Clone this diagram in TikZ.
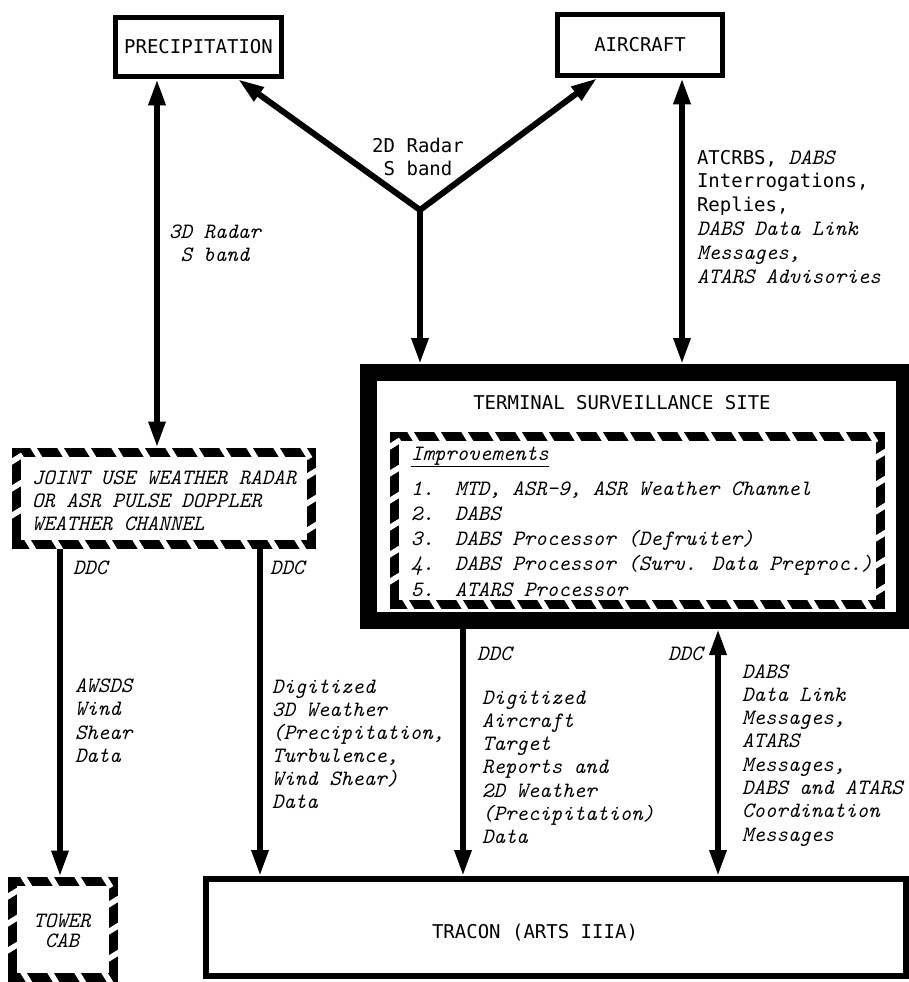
\documentclass[tikz,border=0pt]{standalone}
\usepackage{fontspec}
\newfontfamily\upf{DejaVu Sans Mono}
\usetikzlibrary{arrows.meta,decorations.markings}
\newcommand\myup{\upf\upshape\fontsize{19}{23}\selectfont}
\newcommand\topst{\rule{0pt}{17pt}}
\tikzset{
  itf/.style={font={\ttfamily\itshape\fontsize{21.9}{#1}\selectfont}}, itf/.default=23.3,
  upt/.style={font={\upf\upshape\fontsize{19}{#1}\selectfont}}, upt/.default=23,
  lbl/.style={inner sep=0pt, outer sep=0pt, anchor=north west, align=left},
  clbl/.style={inner sep=0pt, outer sep=0pt, anchor=north, align=center},
  conn/.style={line width=6pt},
  arr/.style={conn, -{Triangle[length=26pt,width=16pt]}},
  darr/.style={conn, {Triangle[length=26pt,width=16pt]}-{Triangle[length=26pt,width=16pt]}},
  sbox/.style={draw, line width=5.5pt, inner sep=0pt},
  hbox/.style={draw, line width=9pt, inner sep=0pt,
    postaction={decorate, decoration={markings,
      mark=between positions 14pt and -14pt step 27pt with
        {\draw[white, line width=5.5pt, line cap=butt] (-4pt,6.5pt) -- (4pt,-6.5pt);}}}},
}
\begin{document}
\begin{tikzpicture}[x=1pt,y=-1pt]
\useasboundingbox (0,0) rectangle (909,982);
\fill[white] (0,0) rectangle (909,982);
\clip (0,0) rectangle (909,982);

% boxes
\node[sbox, minimum width=166pt, minimum height=59pt, upt] (prec) at (198.5,47) {PRECIPITATION};
\node[sbox, minimum width=165pt, minimum height=61pt, upt] (air) at (640,45) {AIRCRAFT};
\node[draw, line width=17pt, minimum width=535.5pt, minimum height=248pt, inner sep=0pt] (tss) at (636.25,496.5) {};
\node[hbox, minimum width=486pt, minimum height=168pt] (imp) at (637,520) {};
\node[hbox, minimum width=295pt, minimum height=92pt] (joint) at (163.5,498) {};
\node[hbox, minimum width=101pt, minimum height=96pt] (tower) at (62.5,929) {};
\node[sbox, line width=6pt, minimum width=700pt, minimum height=97pt] (tracon) at (556,927.5) {};

% coordinates
\coordinate (jn) at (420,210);
\coordinate (xa) at (238,0);
\coordinate (xb) at (597,0);
\coordinate (x3d) at (157,0);
\coordinate (xat) at (682,0);
\coordinate (xd1) at (60,0);
\coordinate (xd2) at (260,0);
\coordinate (xd3) at (463,0);
\coordinate (xd4) at (718,0);

% connectors
\draw[arr, line cap=round] (jn) -- (prec.south -| xa);
\draw[arr, line cap=round] (jn) -- (air.south -| xb);
\draw[arr, line cap=round] (jn) -- (tss.north -| jn);
\draw[darr] (prec.south -| x3d) -- (joint.north -| x3d);
\draw[darr] (air.south -| xat) -- (tss.north -| xat);
\draw[arr] (joint.south -| xd1) -- (tower.north -| xd1);
\draw[arr] (joint.south -| xd2) -- (tracon.north -| xd2);
\draw[arr] (tss.south -| xd3) -- (tracon.north -| xd3);
\draw[darr] (tss.south -| xd4) -- (tracon.north -| xd4);

% texts
\node[clbl, upt=23] (r2d) at (418,135) {\topst 2D Radar\\S band};
\node[clbl, itf=23] (r3d) at (215,221) {\topst 3D Radar\\S band};
\node[lbl, itf=23.8] (atc) at (697,147) {\topst{\myup ATCRBS,} DABS\\{\myup Interrogations,}\\{\myup Replies,}\\DABS Data Link\\Messages,\\ATARS Advisories};
\node[upt, inner sep=0pt] (tsst) at (622,403) {TERMINAL SURVEILLANCE SITE};
\node[lbl, itf] (impt) at (411,443) {\topst\underline{Improvements}};
\node[lbl, itf=25.25] (items) at (411,478) {\topst\makebox[44pt][l]{1.}MTD, ASR-9, ASR Weather Channel\\
\makebox[44pt][l]{2.}DABS\\
\makebox[44pt][l]{3.}DABS Processor (Defruiter)\\
\makebox[44pt][l]{4.}DABS Processor (Surv. Data Preproc.)\\
\makebox[44pt][l]{5.}ATARS Processor};
\node[lbl, itf=23] (jtext) at (32,467) {\topst JOINT USE WEATHER RADAR\\OR ASR PULSE DOPPLER\\WEATHER CHANNEL};
\node[lbl, itf] (ddc1) at (73,557) {\topst DDC};
\node[lbl, itf] (ddc2) at (270,557) {\topst DDC};
\node[lbl, itf] (ddc3) at (477,643) {\topst DDC};
\node[lbl, itf] (ddc4) at (668,643) {\topst DDC};
\node[lbl, itf=23.5] (aw) at (75,675) {\topst AWSDS\\Wind\\Shear\\Data};
\node[lbl, itf=23] (dg) at (272,676) {\topst Digitized\\3D Weather\\(Precipitation,\\Turbulence,\\Wind Shear)\\Data};
\node[lbl, itf=23.3] (mid) at (482,687) {\topst Digitized\\Aircraft\\Target\\Reports and\\2D Weather\\(Precipitation)\\Data};
\node[lbl, itf=23.3] (rt) at (742,661) {\topst DABS\\Data Link\\Messages,\\ATARS\\Messages,\\DABS and ATARS\\Coordination\\Messages};
\node[clbl, itf=20] (twt) at (62,910) {\topst TOWER\\CAB};
\node[upt, inner sep=0pt] (trt) at (535,933) {TRACON (ARTS IIIA)};
\end{tikzpicture}
\end{document}
